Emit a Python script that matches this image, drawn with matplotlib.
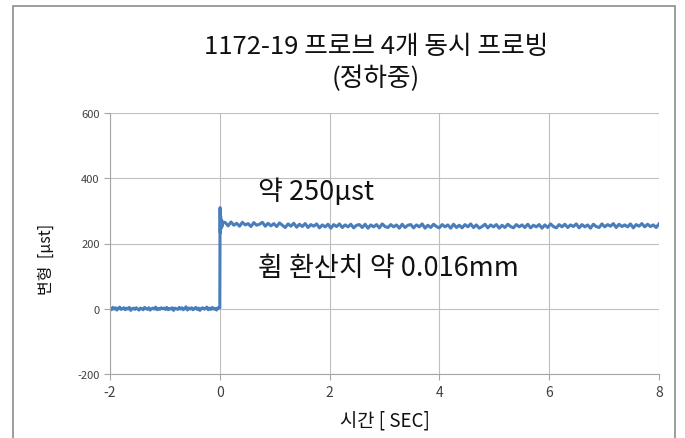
import numpy as np
import matplotlib.pyplot as plt
from matplotlib.patches import Rectangle

plt.rcParams['font.family'] = ['Noto Sans CJK KR', 'DejaVu Sans']
plt.rcParams['axes.unicode_minus'] = False

title = "1172-19 프로브 4개 동시 프로빙\n(정하중)"
x_label = "시간 [ SEC]"
y_label = "변형  [μst]"
note_top = "약 250μst"
note_bottom = "휨 환산치 약 0.016mm"

# readings before the load (-2 s .. 0 s)
base_v = [2, -3, 4, -1, 3, -4, 1, 5, -2, 0, 3, -3, 2, -1, 4, -5, 0, 2, -2, 3,
          -1, -4, 2, 0, -3, 4, 1, -2, 3, -4, 0, 2, -1, 5, -3, 1, -2, 3, 0, 2,
          -2, 4, -3, 1, -1, 3, -5, 2, 0, -2, 4, -1, 3, -3, 1, 6, -4, 2, -1, 3,
          -3, 0, 4, -2, 2, -5, 1, 3, -1, 0, 5, -3, 2, -2, 4, -1, 1, -4, 3, 2]
base_t = np.linspace(-2.0, -0.01, len(base_v))

# step and overshoot
step_t = [0.0, 0.005, 0.01, 0.015, 0.02, 0.03, 0.04, 0.06]
step_v = [3, 310, 232, 285, 245, 272, 252, 266]

# plateau (0.1 s .. 8 s)
plat_v = [264, 254, 266, 256, 262, 253, 265, 257, 261, 252, 264, 256, 259, 265, 253,
          262, 254, 261, 252, 263, 256, 249, 260, 253, 262, 250, 259, 252, 261, 249,
          258, 253, 260, 248, 257, 251, 259, 247, 258, 252, 260, 249, 257, 251, 259,
          248, 256, 258, 249, 259, 247, 257, 251, 258, 248, 260, 252, 249, 258, 251,
          257, 247, 259, 249, 256, 258, 248, 257, 251, 260, 247, 256, 249, 259, 252,
          248, 258, 251, 257, 247, 259, 249, 256, 248, 258, 251, 260, 249, 257, 247,
          252, 259, 248, 257, 251, 258, 247, 256, 249, 259, 252, 248, 258, 251, 257,
          249, 259, 248, 256, 251, 258, 247, 257, 249, 260, 252, 248, 258, 251, 259,
          249, 257, 252, 260, 248, 258, 251, 257, 247, 259, 252, 249, 260, 251, 258,
          253, 261, 249, 259, 252, 257, 251, 260, 248, 258, 253, 261, 251, 259, 252,
          257, 249, 260]
plat_t = np.linspace(0.1, 8.0, len(plat_v))

t = np.concatenate([base_t, step_t, plat_t])
v = np.concatenate([base_v, step_v, plat_v])

fig = plt.figure(figsize=(6.85, 4.39), dpi=100)
fig.patches.append(Rectangle((13 / 685, -0.1), 662 / 685, 1.1 - 7 / 439,
                             transform=fig.transFigure, fill=False,
                             edgecolor='#8c8c8c', linewidth=1.2))
ax = fig.add_axes([110 / 685, 1 - 375 / 439, 549 / 685, 261 / 439])

ax.plot(t, v, color='#4a7ebb', linewidth=2.2)

ax.set_xlim(-2, 8)
ax.set_ylim(-200, 600)
ax.set_xticks([-2, 0, 2, 4, 6, 8])
ax.set_yticks([-200, 0, 200, 400, 600])
ax.grid(True, axis='both', color='#bfbfbf', linewidth=0.8)
ax.set_axisbelow(True)
for s in ['top', 'right']:
    ax.spines[s].set_visible(False)
for s in ['left', 'bottom']:
    ax.spines[s].set_color('#a6a6a6')
ax.tick_params(axis='both', colors='#a6a6a6', length=4, labelsize=8)
ax.tick_params(axis='x', labelsize=10, labelcolor='#404040', pad=4)
ax.tick_params(axis='y', labelcolor='#404040')

fig.text(0.549, 1 - 63 / 439, title, ha='center', va='center', fontsize=18.5,
         linespacing=1.25, color='#111111')
ax.set_xlabel(x_label, fontsize=13.5, color='#111111')
ax.xaxis.set_label_coords(0.5, -(411 - 375) / 261)
ax.set_ylabel(y_label, fontsize=11.5, color='#111111')
ax.yaxis.set_label_coords((55 - 110) / 549, (375 - 259) / 261)

ax.text(0.7, 359, note_top, fontsize=19.5, va='center', color='#111111')
ax.text(0.7, 126, note_bottom, fontsize=19.5, va='center', color='#111111')

fig.savefig('out.png', dpi=100)
